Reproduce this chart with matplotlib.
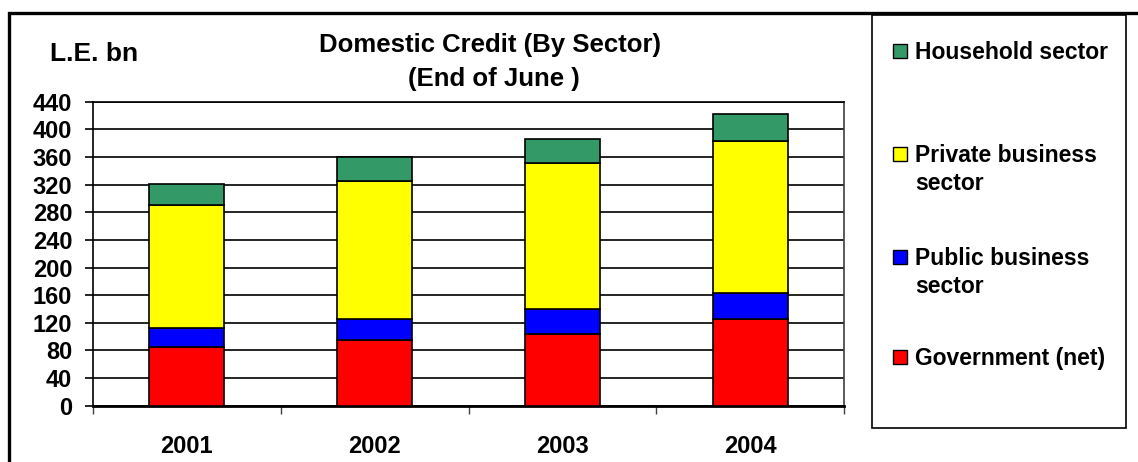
import matplotlib
matplotlib.use("Agg")
import matplotlib.pyplot as plt
from matplotlib.patches import Rectangle
from matplotlib.ticker import FixedLocator, MultipleLocator

plt.rcParams['font.family'] = ['Liberation Sans', 'DejaVu Sans']
plt.rcParams['font.weight'] = 'bold'

years = ['2001', '2002', '2003', '2004']
government = [84.5, 95, 104, 125]
public_business = [28.5, 30, 35.5, 37.5]
private_business = [177, 200, 212, 221]
household = [31, 35, 35, 39]

series = [
    ('Government (net)', government, '#FF0000'),
    ('Public business\nsector', public_business, '#0000FF'),
    ('Private business\nsector', private_business, '#FFFF00'),
    ('Household sector', household, '#339966'),
]

W, H = 1138, 462
fig = plt.figure(figsize=(W / 100, H / 100), dpi=100)
ax = fig.add_axes([93 / W, 1 - 405.7 / H, (844 - 93) / W, (405.7 - 101.7) / H])

x = list(range(1, len(years) + 1))
bottom = [0] * len(years)
for name, vals, col in series:
    ax.bar(x, vals, width=0.40, bottom=bottom, color=col,
           edgecolor='black', linewidth=1.2, zorder=3)
    bottom = [b + v for b, v in zip(bottom, vals)]

ax.set_xlim(0.5, len(years) + 0.5)
ax.set_ylim(0, 440)
ax.yaxis.set_major_locator(MultipleLocator(40))
ax.yaxis.grid(True, color='black', linewidth=1.2)
ax.set_axisbelow(True)

# category boundaries carry the ticks, labels sit at the centres
ax.xaxis.set_major_locator(FixedLocator([i + 0.5 for i in range(len(years) + 1)]))
ax.xaxis.set_minor_locator(FixedLocator(x))
ax.set_xticklabels([])
ax.set_xticklabels(years, minor=True)
ax.tick_params(axis='x', which='major', length=6, width=1, color='#404040')
ax.tick_params(axis='x', which='minor', length=0, pad=21, labelsize=17)
ax.tick_params(axis='y', length=6, width=1.2, pad=9, labelsize=17)

for s in ['left', 'top']:
    ax.spines[s].set_linewidth(1.2)
ax.spines['bottom'].set_linewidth(2)
ax.spines['right'].set_color('#404040')
ax.spines['right'].set_linewidth(1.2)

fig.text(490 / W, 1 - 45 / H, 'Domestic Credit (By Sector)', ha='center', va='center', fontsize=18.5)
fig.text(494 / W, 1 - 79 / H, '(End of June )', ha='center', va='center', fontsize=18.5)
fig.text(50 / W, 1 - 54 / H, 'L.E. bn', ha='left', va='center', fontsize=19)

# outer frame, open to the right and bottom
fig.add_artist(Rectangle((9 / W, -0.1), 1.2, 1.1 - 13.5 / H, transform=fig.transFigure,
                         fill=False, edgecolor='black', linewidth=2.4))

# legend panel
fig.add_artist(Rectangle((872 / W, 1 - 428 / H), (1126 - 872) / W, (428 - 15) / H,
                         transform=fig.transFigure, facecolor='white',
                         edgecolor='black', linewidth=1.2))
legend_y = [51, 154, 257, 357]
for (name, vals, col), yy in zip(series[::-1], legend_y):
    fig.add_artist(Rectangle((893 / W, 1 - (yy + 7) / H), 14 / W, 14 / H,
                             transform=fig.transFigure, facecolor=col,
                             edgecolor='black', linewidth=1))
    fig.text(915 / W, 1 - (yy - 10) / H, name, ha='left', va='top',
             fontsize=16.5, linespacing=1.3)

fig.savefig('out.png', dpi=100)
